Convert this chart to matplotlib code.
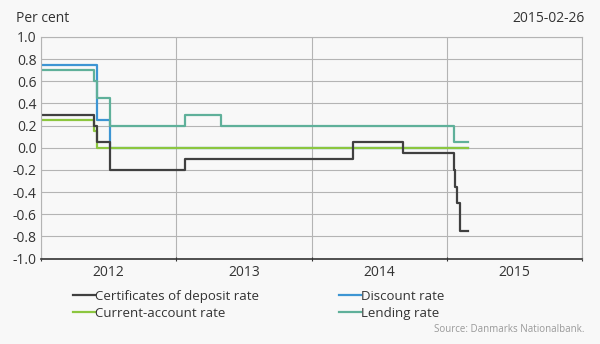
import pandas as pd
import matplotlib.pyplot as plt
import matplotlib.ticker as mticker

# Policy rates, step changes (date, rate in per cent)
cd_dates = ['2012-01-01', '2012-05-24', '2012-06-01', '2012-07-06', '2013-01-25',
            '2014-04-24', '2014-09-05', '2015-01-20', '2015-01-22', '2015-01-29',
            '2015-02-06', '2015-02-26']
cd_rate = [0.30, 0.20, 0.05, -0.20, -0.10, 0.05, -0.05, -0.20, -0.35, -0.50, -0.75, -0.75]

discount_dates = ['2012-01-01', '2012-06-01', '2012-07-06', '2015-02-26']
discount_rate = [0.75, 0.25, 0.00, 0.00]

current_dates = ['2012-01-01', '2012-05-24', '2012-06-01', '2015-02-26']
current_rate = [0.25, 0.15, 0.00, 0.00]

lending_dates = ['2012-01-01', '2012-05-24', '2012-06-01', '2012-07-06', '2013-01-25',
                 '2013-05-02', '2015-01-20', '2015-02-26']
lending_rate = [0.70, 0.60, 0.45, 0.20, 0.30, 0.20, 0.05, 0.05]

years = [2012, 2013, 2014, 2015]


def frac_year(dates):
    d = pd.to_datetime(pd.Series(dates))
    ndays = d.dt.is_leap_year.map({True: 366, False: 365})
    return (d.dt.year + (d.dt.dayofyear - 1) / ndays).values


def main():
    plt.rcParams['font.family'] = ['Open Sans', 'DejaVu Sans']
    bg = '#f8f8f8'
    fig = plt.figure(figsize=(6, 3.44), dpi=100, facecolor=bg)
    ax = fig.add_axes([41 / 600, 1 - 258.5 / 344, (582 - 41) / 600, (258.5 - 37) / 344])
    ax.set_facecolor(bg)

    lines = {}
    lines['disc'], = ax.plot(frac_year(discount_dates), discount_rate, drawstyle='steps-post',
                             color='#3d95d3', lw=1.6, label='Discount rate')
    lines['cur'], = ax.plot(frac_year(current_dates), current_rate, drawstyle='steps-post',
                            color='#8cc63f', lw=1.6, label='Current-account rate')
    lines['lend'], = ax.plot(frac_year(lending_dates), lending_rate, drawstyle='steps-post',
                             color='#5fb09a', lw=1.6, label='Lending rate')
    lines['cd'], = ax.plot(frac_year(cd_dates), cd_rate, drawstyle='steps-post',
                           color='#404040', lw=1.6, label='Certificates of deposit rate')

    ax.set_xlim(years[0], years[-1] + 1)
    ax.set_ylim(-1.0, 1.0)
    ax.yaxis.set_major_locator(mticker.MultipleLocator(0.2))
    ax.yaxis.set_major_formatter(mticker.FormatStrFormatter('%.1f'))

    # year boundaries as major ticks, labels centred in each year
    ax.set_xticks([y for y in years] + [years[-1] + 1])
    ax.set_xticklabels([])
    ax.set_xticks([y + 0.5 for y in years], minor=True)
    ax.set_xticklabels([str(y) for y in years], minor=True)
    ax.tick_params(axis='x', which='minor', length=0, labelsize=10, pad=5, colors='#333333')
    ax.tick_params(axis='x', which='major', length=3, direction='inout', color='#333333')
    ax.tick_params(axis='y', length=0, labelsize=10, pad=3, colors='#333333')

    ax.grid(True, which='major', color='#b4b4b4', lw=0.8)
    ax.set_axisbelow(True)
    for s in ['top', 'right', 'left']:
        ax.spines[s].set_color('#b4b4b4')
        ax.spines[s].set_linewidth(0.8)
    ax.spines['bottom'].set_color('#333333')
    ax.spines['bottom'].set_linewidth(1.2)

    fig.text(16 / 600, 1 - 18 / 344, 'Per cent', fontsize=10, color='#333333', va='center')
    fig.text(585 / 600, 1 - 18 / 344, '2015-02-26', fontsize=10, color='#333333',
             va='center', ha='right')
    fig.text(585 / 600, 1 - 329 / 344, 'Source: Danmarks Nationalbank.', fontsize=7,
             color='#999999', va='center', ha='right')

    leg_kw = dict(frameon=False, fontsize=9.5, handlelength=1.7, handletextpad=0.0,
                  labelspacing=0.3, borderpad=0, borderaxespad=0, labelcolor='#333333')
    leg1 = fig.legend([lines['cd'], lines['cur']],
                      [lines['cd'].get_label(), lines['cur'].get_label()],
                      loc='upper left', bbox_to_anchor=(73 / 600, 1 - 290 / 344), **leg_kw)
    leg2 = fig.legend([lines['disc'], lines['lend']],
                      [lines['disc'].get_label(), lines['lend'].get_label()],
                      loc='upper left', bbox_to_anchor=(339 / 600, 1 - 290 / 344), **leg_kw)
    for leg in (leg1, leg2):
        for h in leg.legend_handles:
            h.set_linewidth(1.6)

    fig.savefig('out.png', dpi=100, facecolor=bg)


if __name__ == "__main__":
    main()
